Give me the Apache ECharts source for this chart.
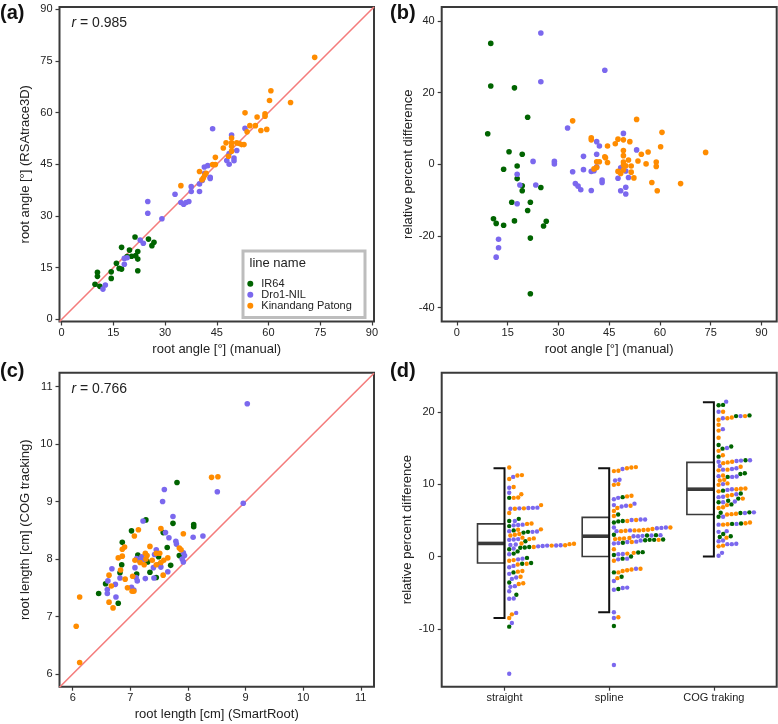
<!DOCTYPE html>
<html><head><meta charset="utf-8">
<script src="https://cdn.jsdelivr.net/npm/echarts@6/dist/echarts.min.js"></script>
<style>html,body{margin:0;padding:0;background:#fff}#c{width:778px;height:724px}</style>
</head><body><div id="c"></div>
<script>
// ---------------- DATA ----------------
const lineNames = ['IR64', 'Dro1-NIL', 'Kinandang Patong'];

// (a) root angle: [manual, RSAtrace3D]
const angleIR64 = [[9.7,10.2],[10.4,13.7],[10.4,12.5],[11.1,9.6],[14.4,13.8],[14.4,11.9],[15.9,16.3],[16.7,14.8],[17.4,14.6],[17.4,20.9],[19.7,20.1],[20.3,18.3],[21.3,23.9],[21.5,18.5],[22.1,19.7],[22.1,17.5],[22.1,14.1],[19.0,18.2],[25.2,23.3],[26.2,21.4],[26.8,22.4]];
const angleDro1 = [[12.0,8.8],[12.7,10.0],[18.2,17.7],[19.0,17.9],[18.2,16.0],[22.8,23.0],[23.7,22.1],[25.0,34.2],[25.0,30.8],[29.1,29.2],[32.9,36.3],[34.6,33.9],[35.4,33.4],[36.1,33.9],[36.9,34.2],[37.6,38.5],[37.6,37.1],[40.0,37.1],[40.0,39.3],[40.8,40.3],[41.4,44.2],[42.4,44.6],[41.5,42.4],[43.1,41.2],[43.1,40.9],[43.8,55.3],[47.9,46.1],[48.6,45.0],[48.6,48.1],[49.3,53.5],[50.0,46.8],[50.0,46.0],[50.8,49.0],[53.2,55.4]];
const angleKP = [[34.6,38.8],[40.0,42.9],[40.7,40.5],[41.1,41.0],[41.5,41.8],[41.9,42.4],[43.8,44.9],[44.6,44.9],[44.6,47.0],[46.9,49.7],[47.7,51.2],[48.4,47.3],[49.3,52.6],[49.3,51.2],[49.3,50.2],[49.3,48.8],[50.8,51.2],[51.5,51.0],[52.2,50.7],[52.9,50.7],[53.2,59.9],[53.8,54.4],[54.6,56.2],[56.2,56.2],[56.7,58.7],[57.8,54.8],[59.0,58.9],[59.0,59.6],[59.5,55.1],[60.3,63.5],[60.7,66.3],[66.4,62.9],[73.4,76.0]];
const angleR = '0.985';

// (b) relative percent difference vs manual angle
const diffIR64 = [[10.0,33.7],[10.0,21.8],[9.1,8.5],[17.0,21.3],[20.9,13.1],[15.4,3.5],[19.3,2.8],[13.8,-1.4],[17.8,-0.5],[17.8,-4.0],[19.3,-6.0],[19.3,-7.4],[24.8,-6.5],[16.2,-10.6],[21.7,-10.6],[20.9,-12.9],[10.8,-15.2],[11.6,-16.5],[13.8,-17.0],[17.0,-15.8],[25.6,-17.2],[26.4,-15.9],[21.7,-20.6],[21.7,-36.1]];
const diffDro1 = [[24.8,36.6],[24.8,23.0],[43.7,26.2],[12.3,-20.9],[12.3,-23.3],[11.6,-25.9],[17.8,-2.8],[17.8,-11.0],[18.6,-5.8],[22.5,0.8],[23.3,-5.8],[28.8,0.8],[28.8,0.1],[32.7,10.1],[34.2,-2.1],[35.0,-5.4],[35.8,-6.1],[36.6,-7.1],[37.4,2.2],[37.4,-1.5],[39.7,-2.0],[39.7,-7.3],[40.5,-1.8],[41.3,6.3],[41.3,2.8],[41.3,-0.7],[42.1,5.1],[42.9,-4.4],[42.9,-5.1],[47.6,-3.9],[48.4,-1.0],[48.4,-7.4],[49.2,8.6],[49.9,-1.9],[49.9,-6.4],[49.9,-8.3],[50.7,-3.7],[53.1,4.0]];
const diffKP = [[34.2,12.1],[39.7,7.4],[39.7,6.8],[41.3,0.7],[42.1,0.7],[40.5,-1.3],[41.3,-0.9],[43.7,2.1],[43.9,1.8],[44.5,5.1],[44.5,0.5],[46.8,5.7],[47.6,7.0],[47.6,-2.0],[48.4,-2.6],[49.2,6.8],[49.2,3.8],[49.2,2.4],[49.2,0.6],[49.2,-0.2],[49.9,-0.4],[49.2,-1.6],[50.7,1.2],[51.1,6.3],[51.5,-0.5],[51.5,-2.2],[52.3,-3.8],[53.1,12.5],[53.5,0.9],[54.5,2.8],[55.9,0.1],[56.5,3.4],[57.6,-5.1],[58.9,0.6],[58.9,-0.6],[59.2,-7.4],[60.2,4.9],[60.6,8.9],[66.1,-5.4],[73.5,3.3]];

// (c) root length: [SmartRoot, COG tracking]
const lengthIR64 = [[7.81,9.33],[7.27,8.68],[7.02,8.49],[7.74,8.62],[7.57,8.46],[8.10,8.60],[8.10,8.56],[6.86,8.29],[7.64,8.20],[7.13,8.07],[6.85,7.90],[7.49,8.04],[7.30,7.95],[7.51,7.91],[7.70,7.89],[7.85,8.06],[7.34,7.77],[6.82,7.76],[7.11,7.74],[7.45,7.68],[6.57,7.57],[6.45,7.40],[6.79,7.23]];
const lengthDro1 = [[9.03,10.70],[8.96,8.97],[8.51,9.17],[7.59,9.21],[7.56,9.00],[7.74,8.74],[7.22,8.66],[7.61,8.46],[7.67,8.37],[7.79,8.31],[7.80,8.26],[8.26,8.40],[8.09,8.38],[7.92,8.11],[7.94,8.06],[7.90,8.00],[7.92,7.95],[7.45,8.16],[7.42,8.08],[7.40,7.85],[7.53,7.86],[7.65,7.78],[7.41,7.67],[7.26,7.66],[7.11,8.01],[7.16,7.97],[7.20,8.04],[7.24,7.99],[7.08,7.85],[7.10,7.68],[7.12,7.62],[7.02,7.51],[7.06,7.46],[6.68,7.83],[6.61,7.62],[6.60,7.47],[6.60,7.40],[6.74,7.56],[6.75,7.34],[6.82,7.67]];
const lengthKP = [[8.41,9.42],[8.52,9.43],[7.53,8.53],[7.14,8.51],[7.07,8.40],[7.92,8.44],[6.90,8.21],[6.86,8.17],[7.34,8.22],[7.85,8.19],[7.88,8.16],[6.79,8.02],[6.86,8.05],[7.26,8.10],[7.29,8.06],[7.45,8.10],[7.51,8.10],[7.08,7.98],[7.17,7.94],[7.27,8.00],[7.24,7.90],[7.38,7.98],[7.58,7.98],[7.65,8.02],[7.45,7.90],[7.53,7.94],[6.83,7.81],[6.63,7.72],[6.67,7.53],[6.91,7.65],[7.04,7.70],[7.57,7.72],[6.95,7.50],[7.03,7.44],[7.06,7.44],[6.63,7.25],[6.70,7.15],[6.12,7.34],[6.06,6.83],[6.12,6.20]];
const lengthR = '0.766';

// (d) relative percent difference by method
const methods = ['straight', 'spline', 'COG traking'];
// [lower whisker, Q1, median, Q3, upper whisker]
const boxStats = [[-8.5,-0.9,1.8,4.5,12.2],[-7.7,0.0,2.8,5.4,12.2],[0.0,5.8,9.3,13.0,21.3]];
const straightIR64 = [8.1,5.2,4.9,4.2,3.6,3.4,3.3,2.1,1.3,1.25,1.2,1.0,0.7,0.4,-0.2,-0.9,-1.0,-2.2,-3.6,-5.3,-9.7];
const straightDro1 = [11.0,9.5,8.8,6.6,6.65,6.7,6.72,6.75,4.9,4.3,4.35,4.4,3.4,3.45,3.5,2.3,2.35,2.4,1.6,1.65,1.4,1.45,1.5,1.52,1.55,1.1,0.3,-0.3,-0.4,-1.3,-1.5,-2.4,-2.9,-3.1,-4.1,-4.2,-4.8,-5.8,-5.85,-7.8,-9.2,-16.2];
const straightKP = [12.3,10.7,11.2,11.25,9.6,8.1,8.15,8.6,7.1,6.6,6.65,6.0,4.5,4.55,3.7,3.75,2.9,3.0,3.1,2.4,2.5,2.6,1.7,1.75,1.8,1.5,1.55,1.3,-0.5,-0.6,-1.0,-1.1,-2.0,-2.1,-2.8,-3.7,-3.8,-8.0,-8.5];
const splineIR64 = [8.2,5.8,4.7,4.85,4.9,2.9,2.95,3.0,2.3,2.35,2.3,2.25,1.9,0.6,0.55,0.2,-0.3,-2.2,-2.8,-4.5,-9.6,0.0];
const splineDro1 = [12.1,10.6,10.5,7.9,8.1,6.9,7.0,7.1,7.3,5.1,5.05,5.1,3.5,3.6,3.9,3.95,4.0,4.0,2.8,2.85,2.9,2.2,2.0,2.05,1.8,1.85,0.3,0.35,-0.3,-0.4,-1.7,-3.4,-4.3,-4.35,-4.6,-7.7,-8.5,-15.0,2.8,2.95];
const splineKP = [12.3,11.8,11.85,12.2,12.35,9.9,10.0,8.3,8.4,7.0,6.3,6.7,5.6,4.9,5.05,3.6,3.5,3.55,3.6,3.65,3.7,3.8,4.0,2.5,2.55,2.0,1.0,0.4,0.5,-0.6,-1.7,-1.8,-1.9,-2.0,-2.2,-3.0,-8.4,2.3,2.4,2.45];
const cogIR64 = [20.9,20.95,19.4,19.5,15.2,15.4,13.8,13.3,11.4,11.5,11.0,9.1,8.7,8.0,7.5,7.7,7.2,6.0,6.05,6.1,5.5,4.5,4.55,3.1,2.8,2.7,14.9];
const cogDro1 = [21.4,20.0,19.1,19.4,17.6,15.0,13.2,13.1,13.25,13.3,12.0,12.1,12.2,11.0,11.05,11.1,9.2,9.3,8.6,8.2,8.25,7.5,7.6,6.0,6.1,5.5,4.5,4.4,3.5,3.4,2.2,2.1,1.7,1.7,1.75,0.5,0.1,12.5,10.0];
const cogKP = [20.0,19.1,19.2,19.4,18.9,18.2,17.4,16.4,14.0,14.6,13.0,12.9,13.1,12.4,11.9,12.0,11.2,10.5,10.6,10.1,9.9,9.3,9.4,9.35,9.0,8.4,8.5,8.0,6.8,6.7,5.9,5.85,5.8,4.7,4.6,4.4,4.45,2.6,1.5,1.4,7.1];

// ---------------- LAYOUT / STYLE ----------------
const COLORS = ['#006400', '#7B68EE', '#FF8C00'];
const FRAME = '#3a3a3a';
const FONT = 'Liberation Sans, Arial, sans-serif';
const grids = [
  {left: 59.5, top: 7, width: 314.5, height: 314.5},
  {left: 441.7, top: 7, width: 335, height: 314.5},
  {left: 59.5, top: 372.7, width: 314.5, height: 314},
  {left: 441.7, top: 372.7, width: 335, height: 314}
];
const ranges = {
  a: {x: [-0.6, 90.6], y: [-0.6, 90.6]},
  b: {x: [-4.5, 94.5], y: [-43.85, 43.85]},
  c: {x: [5.77, 11.23], y: [5.78, 11.24]},
  d: {x: [-0.6, 2.6], y: [-18.0, 25.4]}
};

function axis(gi, r, ticks, name, gap, isY, fmt) {
  return {
    type: 'value', gridIndex: gi, min: r[0], max: r[1],
    name: name, nameLocation: 'middle', nameGap: gap,
    nameTextStyle: {fontSize: 13, color: '#222', fontFamily: FONT},
    splitLine: {show: false},
    axisLine: {show: false, onZero: false},
    axisTick: {show: true, inside: false, length: 4, customValues: ticks, lineStyle: {color: FRAME, width: 1.2}},
    axisLabel: {show: true, customValues: ticks, fontSize: 11, color: '#222', fontFamily: FONT,
      margin: isY ? 7 : 6, formatter: fmt || (v => String(v))}
  };
}

const pxPerUnitX = grids[3].width / (ranges.d.x[1] - ranges.d.x[0]);
const pxPerUnitY = grids[3].height / (ranges.d.y[1] - ranges.d.y[0]);
const DOT = 4.5, SWARM_START = 4.7;

function swarm(catIndex, groups) {
  const pts = [];
  groups.forEach((vals, g) => vals.forEach((v, k) => pts.push({v, g, k})));
  pts.sort((a, b) => a.v - b.v);
  const placed = [];
  pts.forEach(p => {
    const py = p.v * pxPerUnitY;
    const near = placed.filter(q => Math.abs(q.py - py) < DOT);
    const need = q => Math.sqrt(DOT * DOT - (q.py - py) * (q.py - py));
    const cands = [0].concat(near.map(q => q.px + need(q))).sort((a, b) => a - b);
    const x = cands.find(c => near.every(q => Math.abs(c - q.px) >= need(q) - 1e-6));
    p.px = x; p.py = py; placed.push(p);
  });
  const out = groups.map(() => []);
  placed.forEach(p => out[p.g].push([catIndex + (SWARM_START + p.px) / pxPerUnitX, p.v]));
  return out;
}
const swarmSets = [
  swarm(0, [straightIR64, straightDro1, straightKP]),
  swarm(1, [splineIR64, splineDro1, splineKP]),
  swarm(2, [cogIR64, cogDro1, cogKP])
];

const series = [];
function identity(gi, r) {
  series.push({type: 'line', xAxisIndex: gi, yAxisIndex: gi, data: [[r[0], r[0]], [r[1], r[1]]],
    symbol: 'none', silent: true, lineStyle: {color: '#F47C7C', width: 1.6}, z: 1});
}
function scatters(gi, sets, size) {
  sets.forEach((d, i) => series.push({type: 'scatter', name: lineNames[i], xAxisIndex: gi, yAxisIndex: gi,
    data: d, symbolSize: size, itemStyle: {color: COLORS[i], opacity: 1}, z: 2 + i}));
}
identity(0, ranges.a.x);
scatters(0, [angleIR64, angleDro1, angleKP], 5.6);
scatters(1, [diffIR64, diffDro1, diffKP], 5.6);
identity(2, ranges.c.x);
scatters(2, [lengthIR64, lengthDro1, lengthKP], 5.6);

const BOXW = 27 / pxPerUnitX, TICKW = 11 / pxPerUnitX;
series.push({
  type: 'custom', xAxisIndex: 3, yAxisIndex: 3, silent: true, z: 1,
  data: boxStats.map((s, i) => [i].concat(s)),
  encode: {x: 0, y: [1, 2, 3, 4, 5]},
  renderItem: function (params, api) {
    const c = api.value(0), lo = api.value(1), q1 = api.value(2), md = api.value(3), q3 = api.value(4), hi = api.value(5);
    const p = (x, y) => api.coord([x, y]);
    const a = p(c - BOXW, q3), b = p(c, q1), m = p(c, md);
    return {type: 'group', children: [
      {type: 'rect', shape: {x: a[0], y: a[1], width: b[0] - a[0], height: b[1] - a[1]},
        style: {fill: 'none', stroke: FRAME, lineWidth: 1.6}},
      {type: 'line', shape: {x1: a[0], y1: m[1], x2: b[0], y2: m[1]}, style: {stroke: FRAME, lineWidth: 3.6}},
      {type: 'polyline', shape: {points: [p(c - TICKW, hi), p(c, hi), p(c, lo), p(c - TICKW, lo)]},
        style: {fill: 'none', stroke: '#111', lineWidth: 2}}
    ]};
  }
});
[0, 1, 2].forEach(g => {
  series.push({type: 'scatter', name: lineNames[g], xAxisIndex: 3, yAxisIndex: 3,
    data: [].concat(swarmSets[0][g], swarmSets[1][g], swarmSets[2][g]),
    symbolSize: 4.4, itemStyle: {color: COLORS[g], opacity: 1}, z: 3});
});

const t15 = [0, 15, 30, 45, 60, 75, 90];
const option = {
  animation: false,
  textStyle: {fontFamily: FONT},
  grid: grids.map(g => Object.assign({show: true, borderColor: FRAME, borderWidth: 2, backgroundColor: '#fff', containLabel: false}, g)),
  xAxis: [
    axis(0, ranges.a.x, t15, 'root angle [°] (manual)', 21, false),
    axis(1, ranges.b.x, t15, 'root angle [°] (manual)', 21, false),
    axis(2, ranges.c.x, [6, 7, 8, 9, 10, 11], 'root length [cm] (SmartRoot)', 21, false),
    axis(3, ranges.d.x, [0, 1, 2], '', 21, false, v => methods[Math.round(v)])
  ],
  yAxis: [
    axis(0, ranges.a.y, t15, 'root angle [°] (RSAtrace3D)', 28, true),
    axis(1, ranges.b.y, [-40, -20, 0, 20, 40], 'relative percent difference', 27, true),
    axis(2, ranges.c.y, [6, 7, 8, 9, 10, 11], 'root length [cm] (COG tracking)', 28, true),
    axis(3, ranges.d.y, [-10, 0, 10, 20], 'relative percent difference', 28, true)
  ],
  legend: {
    data: lineNames, orient: 'vertical', left: 247.3, top: 278.3, padding: 0, z: 30,
    itemWidth: 12, itemHeight: 6, itemGap: 0, icon: 'circle', selectedMode: false,
    textStyle: {fontSize: 11, lineHeight: 10, color: '#222', fontFamily: FONT}
  },
  graphic: [
    {type: 'rect', left: 241.5, top: 249.5, shape: {width: 122, height: 66.5}, z: 1,
      style: {fill: '#fff', stroke: '#bdbdbd', lineWidth: 3}},
    {type: 'text', left: 249.5, top: 257, z: 31, style: {text: 'line name', fontSize: 13, fill: '#222', font: '13px ' + FONT}},
    {type: 'text', left: 71.5, top: 16, z: 31, style: {text: '{i|r} = ' + angleR, fontSize: 14, fill: '#222', fontFamily: FONT,
      rich: {i: {fontStyle: 'italic', fontSize: 14, fontFamily: FONT, fill: '#222'}}}},
    {type: 'text', left: 71.5, top: 382, z: 31, style: {text: '{i|r} = ' + lengthR, fontSize: 14, fill: '#222', fontFamily: FONT,
      rich: {i: {fontStyle: 'italic', fontSize: 14, fontFamily: FONT, fill: '#222'}}}},
    {type: 'text', left: 0, top: 3, style: {text: '(a)', font: 'bold 20px ' + FONT, fill: '#111'}},
    {type: 'text', left: 390, top: 3, style: {text: '(b)', font: 'bold 20px ' + FONT, fill: '#111'}},
    {type: 'text', left: 0, top: 361, style: {text: '(c)', font: 'bold 20px ' + FONT, fill: '#111'}},
    {type: 'text', left: 390, top: 361, style: {text: '(d)', font: 'bold 20px ' + FONT, fill: '#111'}}
  ],
  series: series
};
const chart = echarts.init(document.getElementById('c'), null, {renderer: 'canvas'});
chart.setOption(option);
</script>
</body></html>
